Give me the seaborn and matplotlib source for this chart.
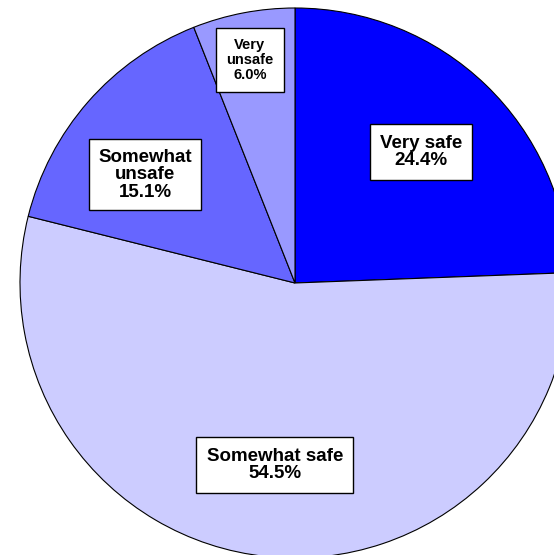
import matplotlib
matplotlib.use("Agg")
import matplotlib.pyplot as plt
import seaborn as sns

# data
categories = ["Very safe", "Somewhat safe", "Somewhat unsafe", "Very unsafe"]
shares = [24.4, 54.5, 15.1, 6.0]
label_text = ["Very safe\n24.4%", "Somewhat safe\n54.5%", "Somewhat\nunsafe\n15.1%", "Very\nunsafe\n6.0%"]
colors = ["#0000FF", "#CCCCFF", "#6666FF", "#9999FF"]

sns.set_style("white")
plt.rcParams["font.family"] = ["Liberation Sans", "DejaVu Sans"]

fig = plt.figure(figsize=(5.54, 5.55), dpi=100)
# pie centre at (295, 283) px, radius 275 px -> part of the pie falls off the canvas
ax = fig.add_axes([20 / 554, -3 / 555, 550 / 554, 550 / 555])

wedges, _ = ax.pie(shares, colors=colors, startangle=90, counterclock=False,
                   radius=1.0, wedgeprops=dict(edgecolor="black", linewidth=0.8))
ax.set_xlim(-1, 1)
ax.set_ylim(-1, 1)
ax.set_aspect("equal")
ax.axis("off")

# label boxes
label_pos = [(0.458, 0.476), (-0.073, -0.662), (-0.545, 0.393), (-0.164, 0.811)]
label_size = [13.5, 13.5, 13.5, 10.5]
box_pad = [0.55, 0.55, 0.5, 0.7]
for txt, (x, y), fs, pad in zip(label_text, label_pos, label_size, box_pad):
    ax.text(x, y, txt, ha="center", va="center", fontsize=fs, fontweight="bold",
            color="black", linespacing=1.05,
            bbox=dict(boxstyle=f"square,pad={pad}", facecolor="white",
                      edgecolor="black", linewidth=1.0))

fig.savefig("out.png", dpi=100)
